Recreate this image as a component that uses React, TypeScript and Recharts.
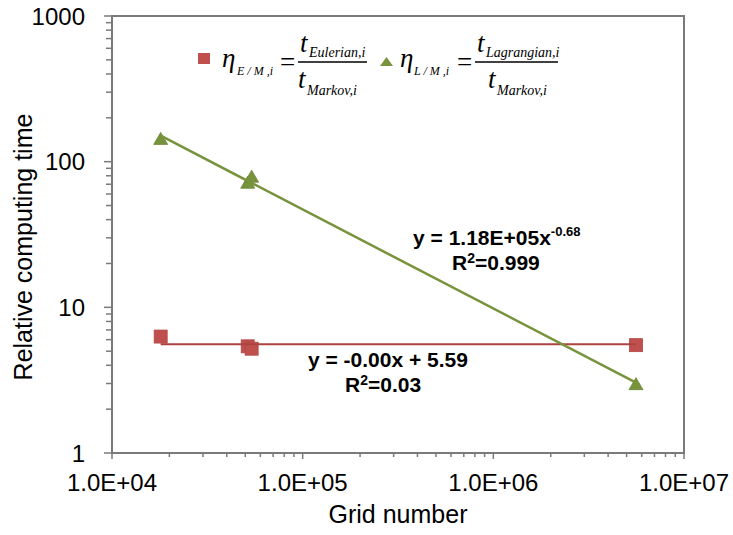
import { ScatterChart, Scatter, XAxis, YAxis, ReferenceArea, Customized } from 'recharts'

// axis ticks (decades, minor ticks at 2..9 of each decade)
const xMajorTicks = [1e4, 1e5, 1e6, 1e7]
const xTickLabels = ['1.0E+04', '1.0E+05', '1.0E+06', '1.0E+07']
const yMajorTicks = [1, 10, 100, 1000]
const yTickLabels = ['1', '10', '100', '1000']

// eta E/M : Eulerian vs Markov
const gridEulerian = [18000, 51500, 54000, 5600000]
const etaEulerian = [6.3, 5.4, 5.2, 5.5]

// eta L/M : Lagrangian vs Markov
const gridLagrangian = [18000, 51500, 54000, 5600000]
const etaLagrangian = [140, 70, 77, 2.9]

// trendline fits (as printed on the chart)
const powerCoef = 1.18e5
const powerExp = -0.68
const linSlope = -0.0
const linIntercept = 5.59

const RED = '#C0504D'
const RED_LINE = '#AD4341'
const GREEN = '#77933C'
const AXIS = '#7a7a7a'
const SANS = '"Liberation Sans", Arial, sans-serif'
const SERIF = '"Liberation Serif", "Times New Roman", serif'

const withMinor = (majors: number[]) =>
  majors.flatMap((m, i) =>
    i === majors.length - 1 ? [m] : [1, 2, 3, 4, 5, 6, 7, 8, 9].map((k) => m * k)
  )

const eulerianPts = gridEulerian.map((x, i) => ({ x, y: etaEulerian[i] }))
const lagrangianPts = gridLagrangian.map((x, i) => ({ x, y: etaLagrangian[i] }))

const ends = (xs: number[]) => [xs[0], xs[xs.length - 1]]
const powerTrend = ends(gridLagrangian).map((x) => ({ x, y: powerCoef * Math.pow(x, powerExp) }))
const linearTrend = ends(gridEulerian).map((x) => ({ x, y: linSlope * x + linIntercept }))

const XTick = ({ x, y, payload }: any) => {
  const i = xMajorTicks.indexOf(payload.value)
  return (
    <g>
      <line x1={x} x2={x} y1={y} y2={y + (i >= 0 ? 6 : 4)} stroke={AXIS} strokeWidth={1.5} />
      {i >= 0 && (
        <text x={x} y={y + 38} textAnchor="middle" fontSize={24} fill="#000" fontFamily={SANS}>
          {xTickLabels[i]}
        </text>
      )}
    </g>
  )
}

const YTick = ({ x, y, payload }: any) => {
  const i = yMajorTicks.indexOf(payload.value)
  return (
    <g>
      <line x1={x - (i >= 0 ? 8 : 6)} x2={x} y1={y} y2={y} stroke={AXIS} strokeWidth={1.5} />
      {i >= 0 && (
        <text x={x - 27} y={y + 8.5} textAnchor="end" fontSize={24} fill="#000" fontFamily={SANS}>
          {yTickLabels[i]}
        </text>
      )}
    </g>
  )
}

const Square = ({ cx, cy }: any) => (
  <rect x={cx - 6.5} y={cy - 6.5} width={13} height={13} fill={RED} stroke="#b04644" strokeWidth={0.8} />
)

const Triangle = ({ cx, cy }: any) => (
  <polygon
    points={`${cx},${cy - 8} ${cx - 7},${cy + 4} ${cx + 7},${cy + 4}`}
    fill={GREEN}
    stroke="#6c8736"
    strokeWidth={0.8}
  />
)

const NoDot = () => <g />

// equation legend plus fit annotations
const Overlay = () => (
  <g fill="#000">
    <rect x={198} y={53} width={12} height={11} fill={RED} />
    <text x={222} y={67} fontFamily={SERIF} fontStyle="italic" fontSize={27}>η</text>
    <text x={237} y={75} fontFamily={SERIF} fontStyle="italic" fontSize={12}>E / M ,i</text>
    <text x={280} y={71} fontFamily={SERIF} fontSize={27}>=</text>
    <line x1={298} x2={367} y1={62} y2={62} stroke="#000" strokeWidth={1.3} />
    <text x={300} y={52} fontFamily={SERIF} fontStyle="italic" fontSize={27}>t</text>
    <text x={309} y={57} fontFamily={SERIF} fontStyle="italic" fontSize={14}>Eulerian,i</text>
    <text x={298} y={88} fontFamily={SERIF} fontStyle="italic" fontSize={27}>t</text>
    <text x={307} y={95} fontFamily={SERIF} fontStyle="italic" fontSize={14}>Markov,i</text>

    <polygon points="386.5,57 380,66 393,66" fill={GREEN} />
    <text x={400} y={67} fontFamily={SERIF} fontStyle="italic" fontSize={27}>η</text>
    <text x={414} y={75} fontFamily={SERIF} fontStyle="italic" fontSize={12}>L / M ,i</text>
    <text x={457} y={71} fontFamily={SERIF} fontSize={27}>=</text>
    <line x1={475} x2={558} y1={62} y2={62} stroke="#000" strokeWidth={1.3} />
    <text x={477} y={52} fontFamily={SERIF} fontStyle="italic" fontSize={27}>t</text>
    <text x={486} y={57} fontFamily={SERIF} fontStyle="italic" fontSize={14}>Lagrangian,i</text>
    <text x={488} y={88} fontFamily={SERIF} fontStyle="italic" fontSize={27}>t</text>
    <text x={497} y={95} fontFamily={SERIF} fontStyle="italic" fontSize={14}>Markov,i</text>

    <text x={413} y={245} fontFamily={SANS} fontWeight="bold" fontSize={21}>
      y = {powerCoef.toExponential(2).toUpperCase().replace('E+5', 'E+05')}x
      <tspan fontSize={13} dy={-9}>{powerExp.toFixed(2)}</tspan>
    </text>
    <text x={452} y={270} fontFamily={SANS} fontWeight="bold" fontSize={21}>
      R<tspan fontSize={14} dy={-7}>2</tspan>
      <tspan dy={7}>=0.999</tspan>
    </text>
    <text x={308} y={367} fontFamily={SANS} fontWeight="bold" fontSize={21}>
      y = -0.00x + {linIntercept.toFixed(2)}
    </text>
    <text x={345} y={392} fontFamily={SANS} fontWeight="bold" fontSize={21}>
      R<tspan fontSize={14} dy={-7}>2</tspan>
      <tspan dy={7}>=0.03</tspan>
    </text>

    <text x={398} y={523} textAnchor="middle" fontFamily={SANS} fontSize={25}>Grid number</text>
    <text
      x={32}
      y={247}
      textAnchor="middle"
      fontFamily={SANS}
      fontSize={25}
      transform="rotate(-90 32 247)"
    >
      Relative computing time
    </text>
  </g>
)

export default function App() {
  return (
    <div style={{ position: 'absolute', left: 0, top: 0, background: '#fff' }}>
      <ScatterChart
        width={733}
        height={535}
        margin={{ top: 16, right: 49, bottom: 0, left: 0 }}
        style={{ fontFamily: SANS }}
      >
        <XAxis
          type="number"
          dataKey="x"
          scale="log"
          domain={[1e4, 1e7]}
          ticks={withMinor(xMajorTicks)}
          interval={0}
          allowDataOverflow
          height={82}
          tickSize={0}
          tickMargin={0}
          tickLine={false}
          tick={<XTick />}
          axisLine={{ stroke: AXIS, strokeWidth: 2 }}
        />
        <YAxis
          type="number"
          dataKey="y"
          scale="log"
          domain={[1, 1000]}
          ticks={withMinor(yMajorTicks)}
          interval={0}
          allowDataOverflow
          width={112}
          tickSize={0}
          tickMargin={0}
          tickLine={false}
          tick={<YTick />}
          axisLine={{ stroke: AXIS, strokeWidth: 2 }}
        />
        <ReferenceArea x1={1e4} x2={1e7} y1={1} y2={1000} fill="none" stroke={AXIS} strokeWidth={2} />
        <Scatter data={eulerianPts} shape={Square} isAnimationActive={false} />
        <Scatter data={lagrangianPts} shape={Triangle} isAnimationActive={false} />
        <Scatter
          data={linearTrend}
          shape={NoDot}
          line={{ stroke: RED_LINE, strokeWidth: 2 }}
          isAnimationActive={false}
        />
        <Scatter
          data={powerTrend}
          shape={NoDot}
          line={{ stroke: GREEN, strokeWidth: 2.5 }}
          isAnimationActive={false}
        />
        <Customized component={Overlay} />
      </ScatterChart>
    </div>
  )
}
